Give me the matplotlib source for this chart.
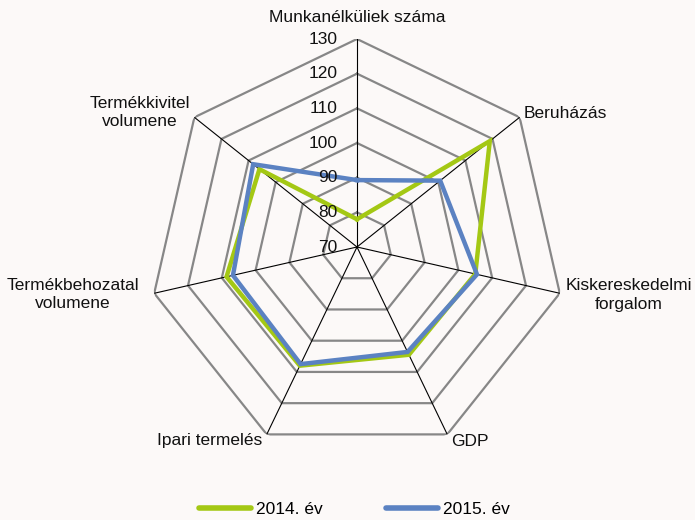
import matplotlib
matplotlib.use('Agg')
import matplotlib.pyplot as plt
import numpy as np

plt.rcParams['font.family'] = ['Liberation Sans', 'DejaVu Sans']

# Data
categories = ['Munkanélküliek száma', 'Beruházás', 'Kiskereskedelmi\nforgalom',
              'GDP', 'Ipari termelés', 'Termékbehozatal\nvolumene',
              'Termékkivitel\nvolumene']
values_2014 = [78, 119, 105, 104.5, 108, 108.6, 106]
values_2015 = [89.3, 100.7, 105.5, 103.6, 107.5, 106.7, 108.3]
series_names = ['2014. év', '2015. év']
ticks = [70, 80, 90, 100, 110, 120, 130]

BG = '#fcf9f8'
GREEN = '#a4c814'
BLUE = '#5b82c2'
GRID = '#878787'

W, H = 695, 520
fig = plt.figure(figsize=(W / 100, H / 100), dpi=100)
fig.patch.set_facecolor(BG)

# polar axes centred at (357, 247) px with radius 208 px
cx, cy, R = 357, 247, 208
ax = fig.add_axes([(cx - R) / W, (H - cy - R) / H, 2 * R / W, 2 * R / H],
                  projection='polar')
ax.set_facecolor('none')
ax.set_theta_offset(np.pi / 2)
ax.set_theta_direction(-1)
ax.set_ylim(ticks[0], ticks[-1])
ax.grid(False)
ax.spines['polar'].set_visible(False)
ax.set_xticks([])
ax.set_yticks([])

n = len(categories)
theta = np.arange(n) * 2 * np.pi / n
theta_c = np.append(theta, theta[0])

# heptagon grid
for t in ticks[1:]:
    ax.plot(theta_c, [t] * (n + 1), color=GRID, lw=1.6, zorder=1)
# spokes
for th in theta:
    ax.plot([th, th], [ticks[0], ticks[-1]], color='black', lw=0.8, zorder=2)

# series
for vals, col, name in [(values_2014, GREEN, series_names[0]),
                        (values_2015, BLUE, series_names[1])]:
    ax.plot(theta_c, vals + vals[:1], color=col, lw=3.2, zorder=3,
            label=name, solid_joinstyle='miter')

# radial tick labels on top spoke
for t in ticks:
    ax.annotate(str(t), xy=(0, t), xytext=(-14, 0), textcoords='offset points',
                ha='right', va='center', fontsize=12.5, color='#111111',
                annotation_clip=False)

# category labels (figure pixel positions)
label_pos = [(357, 18), (565, 113), (629, 295), (470, 441),
             (210, 441), (73, 295), (140, 113)]
for lab, (px, py) in zip(categories, label_pos):
    fig.text(px / W, 1 - py / H, lab, ha='center', va='center',
             fontsize=12.5, color='#111111', linespacing=1.25)

leg = fig.legend(loc='lower center', bbox_to_anchor=(0.51, -0.024), ncol=2,
                 frameon=False, fontsize=12.5, handlelength=3.0,
                 handletextpad=0.3, columnspacing=3.6)
for line in leg.get_lines():
    line.set_linewidth(4)
    line.set_solid_capstyle('round')

fig.savefig('out.png', dpi=100, facecolor=BG)
